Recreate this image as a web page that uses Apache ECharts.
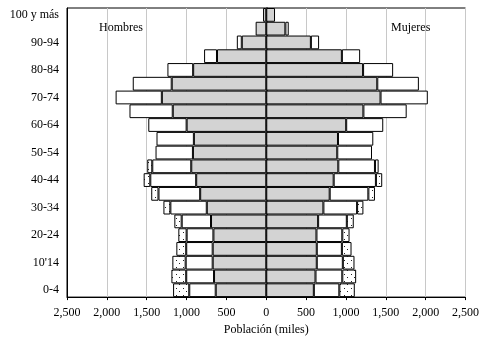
<!DOCTYPE html>
<html>
<head>
<meta charset="utf-8">
<script src="https://cdn.jsdelivr.net/npm/echarts@6/dist/echarts.min.js"></script>
<style>
  html, body { margin: 0; padding: 0; background: #fff; }
  #chart { width: 482px; height: 341px; }
</style>
</head>
<body>
<div id="chart"></div>
<script>
// grupos de edad, de abajo hacia arriba
let edades = ['0-4', '5-9', "10'14", '15-19', '20-24', '25-29', '30-34', '35-39', '40-44', '45-49',
    '50-54', '55-59', '60-64', '65-69', '70-74', '75-79', '80-84', '85-89', '90-94', '95-99', '100 y más'];

// Hombres (miles): parte gris, parte blanca, parte punteada
let hombresGris = [634, 655, 672, 672, 663, 693, 746, 829, 879, 941, 920, 908, 999, 1173, 1310, 1186, 917, 618, 307, 133, 40];
let hombresBlanco = [332, 349, 339, 332, 336, 368, 457, 523, 576, 489, 469, 469, 481, 543, 580, 489, 323, 162, 62, 0, 0];
let hombresPunteado = [203, 186, 167, 124, 104, 92, 87, 91, 83, 63, 0, 0, 0, 0, 0, 0, 0, 0, 0, 0, 0];

// Mujeres (miles)
let mujeresGris = [597, 618, 634, 634, 630, 651, 717, 796, 846, 904, 891, 900, 1003, 1219, 1434, 1393, 1215, 949, 560, 240, 110];
let mujeresBlanco = [320, 336, 327, 315, 324, 360, 423, 485, 530, 460, 436, 443, 465, 543, 593, 522, 377, 229, 103, 42, 0];
let mujeresPunteado = [194, 174, 146, 121, 91, 87, 79, 83, 79, 46, 0, 0, 0, 0, 0, 0, 0, 0, 0, 0, 0];

// ticks del eje x
let ticksX = [-2500, 2500, 500];

// trama punteada
let patron = document.createElement('canvas');
patron.width = 7;
patron.height = 7;
let ctx = patron.getContext('2d');
ctx.fillStyle = '#fff';
ctx.fillRect(0, 0, 7, 7);
ctx.fillStyle = '#222';
ctx.fillRect(1, 1, 1, 1);
ctx.fillRect(4, 4, 1, 1);

// valores negativos para el lado izquierdo; los ceros no se dibujan
function lado(arr, signo) {
    return arr.map(function (v) { return v === 0 ? '-' : v * signo; });
}

function miles(v) {
    return Math.abs(v).toLocaleString('en-US');
}

let fuente = 'Liberation Serif';
let borde = { borderColor: '#000', borderWidth: 1 };

function serie(nombre, datos, color) {
    return {
        name: nombre,
        type: 'bar',
        stack: 'total',
        data: datos,
        barCategoryGap: 0,
        itemStyle: Object.assign({ color: color }, borde),
        emphasis: { disabled: true },
        animation: false
    };
}

let myChart = echarts.init(document.getElementById('chart'));
let option = {
    animation: false,
    textStyle: { fontFamily: fuente },
    grid: {
        left: 67, right: 14, top: 8, bottom: 42,
        show: true, borderColor: '#000', borderWidth: 1
    },
    xAxis: {
        type: 'value',
        min: ticksX[0],
        max: ticksX[1],
        interval: ticksX[2],
        name: 'Población (miles)',
        nameLocation: 'middle',
        nameGap: 21,
        nameTextStyle: { fontFamily: fuente, fontSize: 12, color: '#000' },
        axisLine: { show: true, lineStyle: { color: '#000' } },
        axisTick: { show: true, length: 3, lineStyle: { color: '#000' } },
        axisLabel: { formatter: miles, fontFamily: fuente, fontSize: 12, color: '#000', margin: 10 },
        splitLine: { show: true, lineStyle: { color: '#c8c8c8' } }
    },
    yAxis: [{
        type: 'category',
        data: edades,
        position: 'left',
        axisLine: { onZero: false, show: true, lineStyle: { color: '#000' } },
        axisTick: { show: false },
        axisLabel: { interval: 1, fontFamily: fuente, fontSize: 12, color: '#000', margin: 8 },
        splitLine: { show: false }
    }, {
        type: 'category',
        data: edades,
        position: 'right',
        axisLine: { onZero: true, show: true, lineStyle: { color: '#000', width: 1.5 } },
        axisTick: { show: true, alignWithLabel: true, length: 3, lineStyle: { color: '#000' } },
        axisLabel: { show: false },
        splitLine: { show: false }
    }],
    graphic: [
        { type: 'text', left: 99, top: 22, style: { text: 'Hombres', font: '12px ' + fuente, fill: '#000' } },
        { type: 'text', left: 391, top: 22, style: { text: 'Mujeres', font: '12px ' + fuente, fill: '#000' } }
    ],
    series: [
        serie('Hombres', lado(hombresGris, -1), '#d3d3d3'),
        serie('Hombres b', lado(hombresBlanco, -1), '#fff'),
        serie('Hombres p', lado(hombresPunteado, -1), { image: patron, repeat: 'repeat' }),
        serie('Mujeres', lado(mujeresGris, 1), '#d3d3d3'),
        serie('Mujeres b', lado(mujeresBlanco, 1), '#fff'),
        serie('Mujeres p', lado(mujeresPunteado, 1), { image: patron, repeat: 'repeat' })
    ]
};
myChart.setOption(option);
</script>
</body>
</html>
